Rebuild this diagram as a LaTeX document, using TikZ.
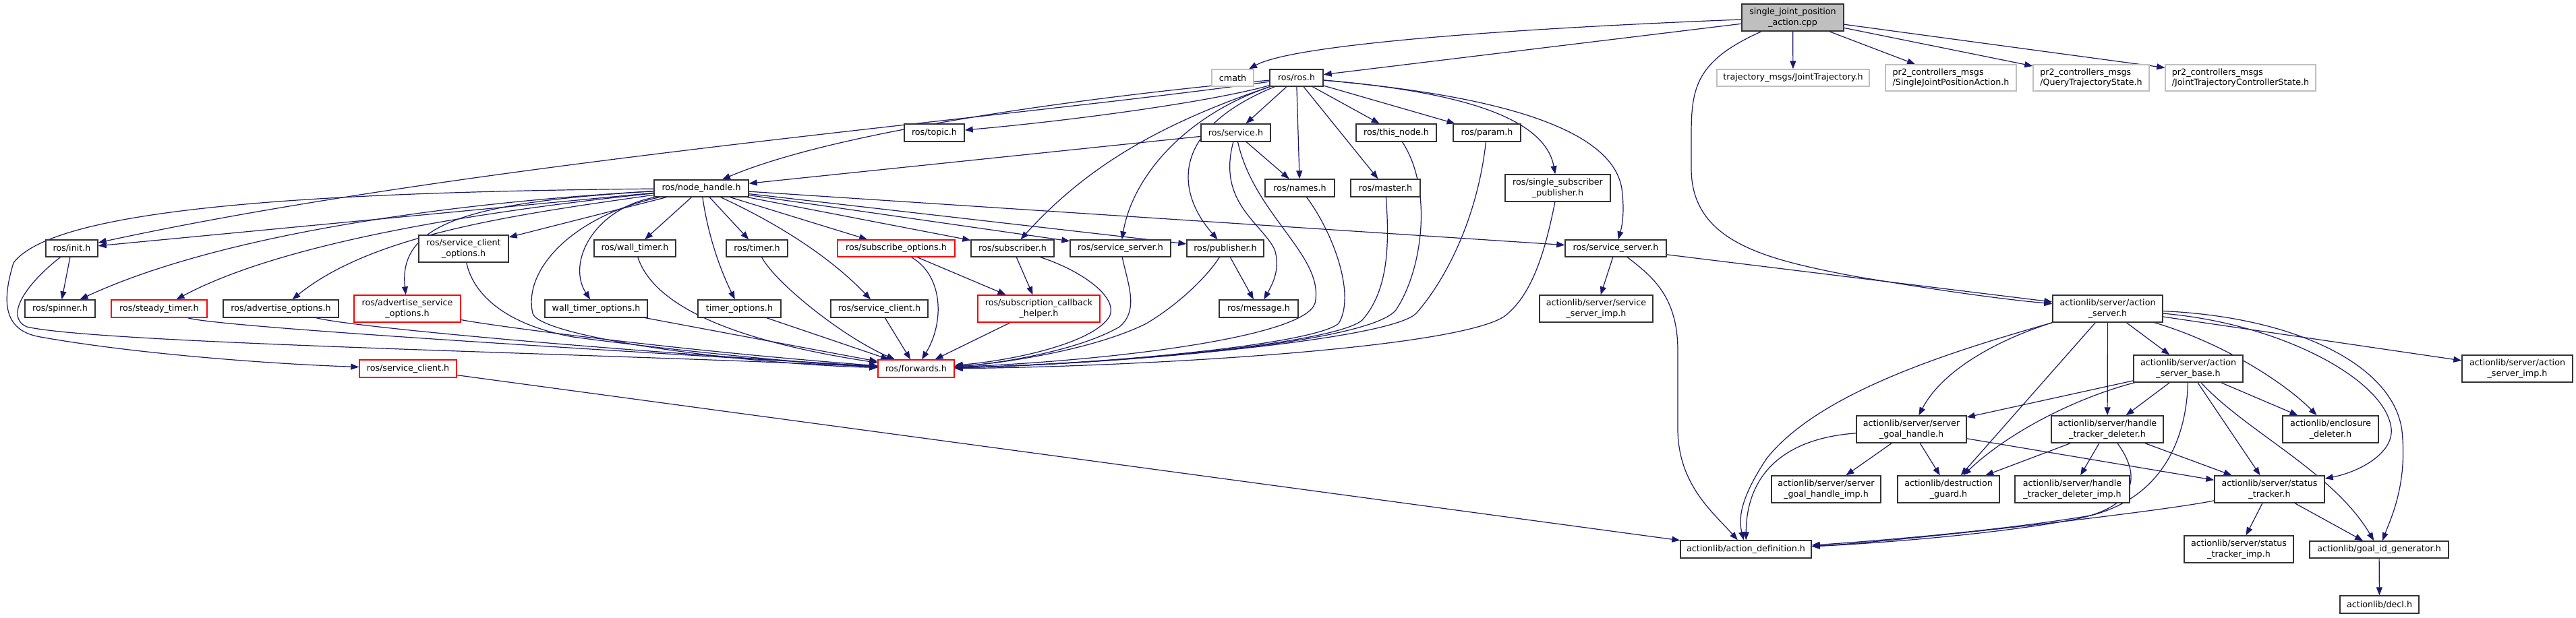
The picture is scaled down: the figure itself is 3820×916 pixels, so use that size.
\documentclass[tikz,border=0pt]{standalone}
\usepackage{fontspec}
\newfontfamily\dv{DejaVu Sans}
\usetikzlibrary{arrows.meta}
\definecolor{edgec}{HTML}{191970}
\definecolor{gfill}{HTML}{BFBFBF}
\definecolor{gline}{HTML}{BFBFBF}
\definecolor{bline}{HTML}{333333}
\pgfdeclarelayer{back}
\pgfdeclarelayer{bg}
\pgfsetlayers{back,bg,main}
\tikzset{
  box/.style={draw=bline, fill=white, line width=1.4pt, inner sep=0pt, align=center,
    font=\dv\fontsize{12.7}{15.5}\selectfont},
  gbox/.style={box, draw=gline},
  gboxl/.style={box, draw=gline, align=left},
  rbox/.style={box, draw=red},
  mainbox/.style={box, fill=gfill, draw=bline},
  e/.style={draw=edgec, line width=1.2pt, -{Triangle[length=12pt,width=9pt]}}
}
\newcommand\mkbox[6]{\node[#1,minimum width=#4pt,minimum height=#5pt] (#2) at (#3) {#6};}
\begin{document}
\begin{tikzpicture}[x=1pt,y=-1pt]
\begin{pgfonlayer}{back}
\fill[white] (0,0) rectangle (3820,916);
\end{pgfonlayer}
\useasboundingbox (0,0) rectangle (3820,916);

\mkbox{mainbox}{main}{2658.5,26}{151}{40}{single\_joint\_position\\\_action.cpp}
\mkbox{gbox}{cmath}{1828,115.5}{62}{25}{cmath}
\mkbox{box}{rosh}{1922.5,115.5}{79}{25}{ros/ros.h}
\mkbox{gbox}{traj}{2659,115.5}{226}{25}{trajectory\_msgs/JointTrajectory.h}
\mkbox{gboxl}{sjpa}{2893,115.5}{194}{39}{pr2\_controllers\_msgs\\/SingleJointPositionAction.h}
\mkbox{gboxl}{qts}{3101,115.5}{172}{39}{pr2\_controllers\_msgs\\/QueryTrajectoryState.h}
\mkbox{gboxl}{jtcs}{3322.5,115.5}{223}{39}{pr2\_controllers\_msgs\\/JointTrajectoryControllerState.h}
\mkbox{box}{topic}{1385.5,197}{89}{26}{ros/topic.h}
\mkbox{box}{service}{1832.5,197}{103}{26}{ros/service.h}
\mkbox{box}{thisnode}{2070.5,197}{119}{26}{ros/this\_node.h}
\mkbox{box}{param}{2205,197}{100}{26}{ros/param.h}
\mkbox{box}{nh}{1040,279.5}{140}{25}{ros/node\_handle.h}
\mkbox{box}{names}{1927.5,279}{103}{26}{ros/names.h}
\mkbox{box}{master}{2054.5,279}{103}{26}{ros/master.h}
\mkbox{box}{ssp}{2310,279}{156}{40}{ros/single\_subscriber\\\_publisher.h}
\mkbox{box}{init}{106.5,368.5}{77}{25}{ros/init.h}
\mkbox{box}{sco}{687.5,369}{133}{40}{ros/service\_client\\\_options.h}
\mkbox{box}{walltimer}{941.5,368.5}{121}{25}{ros/wall\_timer.h}
\mkbox{box}{timer}{1122.5,368.5}{91}{25}{ros/timer.h}
\mkbox{rbox}{subopt}{1329,368.5}{174}{25}{ros/subscribe\_options.h}
\mkbox{box}{subscriber}{1501.5,368.5}{123}{25}{ros/subscriber.h}
\mkbox{box}{ssL}{1661.5,368.5}{149}{25}{ros/service\_server.h}
\mkbox{box}{publisher}{1817,368.5}{114}{25}{ros/publisher.h}
\mkbox{box}{ssR}{2396,368.5}{150}{25}{ros/service\_server.h}
\mkbox{box}{spinner}{89,458}{104}{26}{ros/spinner.h}
\mkbox{rbox}{steady}{236,458}{142}{26}{ros/steady\_timer.h}
\mkbox{box}{advopt}{416.5,458}{171}{26}{ros/advertise\_options.h}
\mkbox{rbox}{advsrv}{604,458}{158}{40}{ros/advertise\_service\\\_options.h}
\mkbox{box}{wto}{884,458}{152}{26}{wall\_timer\_options.h}
\mkbox{box}{to}{1096.5,458}{123}{26}{timer\_options.h}
\mkbox{box}{scb}{1304,458}{144}{26}{ros/service\_client.h}
\mkbox{rbox}{sch}{1540.5,458}{181}{40}{ros/subscription\_callback\\\_helper.h}
\mkbox{box}{message}{1866.5,458}{117}{26}{ros/message.h}
\mkbox{box}{ssimp}{2367,458}{168}{40}{actionlib/server/service\\\_server\_imp.h}
\mkbox{box}{asrv}{3125.5,458}{163}{40}{actionlib/server/action\\\_server.h}
\mkbox{rbox}{fw}{1358.5,547}{113}{26}{ros/forwards.h}
\mkbox{rbox}{scred}{605,547}{144}{26}{ros/service\_client.h}
\mkbox{box}{asb}{3245,547}{162}{40}{actionlib/server/action\\\_server\_base.h}
\mkbox{box}{asimp}{3733,547}{164}{40}{actionlib/server/action\\\_server\_imp.h}
\mkbox{box}{sgh}{2834.5,637}{163}{40}{actionlib/server/server\\\_goal\_handle.h}
\mkbox{box}{htd}{3125,637}{166}{40}{actionlib/server/handle\\\_tracker\_deleter.h}
\mkbox{box}{enc}{3456,637}{142}{40}{actionlib/enclosure\\\_deleter.h}
\mkbox{box}{sghimp}{2708,726}{162}{40}{actionlib/server/server\\\_goal\_handle\_imp.h}
\mkbox{box}{dg}{2889.5,726}{151}{40}{actionlib/destruction\\\_guard.h}
\mkbox{box}{htdimp}{3073,726}{170}{40}{actionlib/server/handle\\\_tracker\_deleter\_imp.h}
\mkbox{box}{st}{3365.5,726}{163}{40}{actionlib/server/status\\\_tracker.h}
\mkbox{box}{stimp}{3320,815}{162}{40}{actionlib/server/status\\\_tracker\_imp.h}
\mkbox{box}{ad}{2589,815}{194}{26}{actionlib/action\_definition.h}
\mkbox{box}{gidg}{3528,815.5}{206}{25}{actionlib/goal\_id\_generator.h}
\mkbox{box}{decl}{3528.5,897}{117}{26}{actionlib/decl.h}

\begin{pgfonlayer}{bg}
% main
\draw[e] (main) .. controls (2250,42) and (1920,65) .. (cmath);
\draw[e] (main) -- (rosh);
\draw[e] (main) -- (traj);
\draw[e] (main) -- (sjpa);
\draw[e] (main) -- (qts);
\draw[e] (main) -- (jtcs);
\draw[e] (main) .. controls (2515,90) and (2508,130) .. (2508,200) -- (2508,250) .. controls (2508,360) and (2620,385) .. (2750,410) .. controls (2900,435) and (2980,445) .. (asrv);
% ros.h
\draw[e] (rosh) .. controls (1800,150) and (1600,178) .. (topic);
\draw[e] (rosh) .. controls (1650,140) and (1250,190) .. (nh);
\draw[e] (rosh) .. controls (1500,175) and (700,240) .. (init);
\draw[e] (rosh) -- (service);
\draw[e] (rosh) -- (names);
\draw[e] (rosh) -- (thisnode);
\draw[e] (rosh) -- (param);
\draw[e] (rosh) -- (master);
\draw[e] (rosh) .. controls (2150,135) and (2290,170) .. (ssp);
\draw[e] (rosh) .. controls (2200,140) and (2390,185) .. (2405,280) .. controls (2410,320) and (2404,340) .. (ssR);
\draw[e] (rosh) .. controls (1700,190) and (1600,260) .. (subscriber);
\draw[e] (rosh) .. controls (1760,170) and (1680,260) .. (ssL);
\draw[e] (rosh) .. controls (1740,190) and (1740,280) .. (publisher);
% node_handle
\draw[e] (nh) -- (init);
\draw[e] (nh) .. controls (600,305) and (300,360) .. (spinner);
\draw[e] (nh) .. controls (650,320) and (400,370) .. (steady);
\draw[e] (nh) .. controls (750,320) and (550,350) .. (advopt);
\draw[e] (nh) .. controls (700,300) and (590,330) .. (advsrv);
\draw[e] (nh) -- (sco);
\draw[e] (nh) -- (walltimer);
\draw[e] (nh) .. controls (880,310) and (840,390) .. (wto);
\draw[e] (nh) .. controls (1050,350) and (1068,400) .. (to);
\draw[e] (nh) -- (timer);
\draw[e] (nh) .. controls (1150,330) and (1230,380) .. (scb);
\draw[e] (nh) -- (subopt);
\draw[e] (nh) -- (subscriber);
\draw[e] (nh) -- (ssL);
\draw[e] (nh) -- (publisher);
\draw[e] (nh) -- (ssR);
\draw[e] (nh) .. controls (850,320) and (775,400) .. (790,465) .. controls (800,500) and (1100,540) .. (fw);
\draw[e] (nh) .. controls (450,285) and (80,310) .. (20,390) .. controls (5,440) and (0,490) .. (60,500) .. controls (200,525) and (400,540) .. (scred);
% init and others
\draw[e] (init) -- (spinner);
\draw[e] (init) .. controls (40,420) and (5,470) .. (40,485) .. controls (150,510) and (900,525) .. (fw);
\draw[e] (sco) .. controls (700,430) and (740,480) .. (850,500) .. controls (1000,520) and (1200,540) .. (fw);
\draw[e] (steady) .. controls (320,485) and (900,520) .. (fw);
\draw[e] (advopt) .. controls (520,485) and (900,520) .. (fw);
\draw[e] (advsrv) .. controls (720,482) and (1000,520) .. (fw);
\draw[e] (walltimer) .. controls (965,440) and (1050,500) .. (fw);
\draw[e] (wto) -- (fw);
\draw[e] (to) -- (fw);
\draw[e] (timer) .. controls (1150,420) and (1250,500) .. (fw);
\draw[e] (scb) -- (fw);
\draw[e] (subopt) .. controls (1400,410) and (1400,480) .. (fw);
\draw[e] (subopt) -- (sch);
\draw[e] (subscriber) -- (sch);
\draw[e] (sch) -- (fw);
\draw[e] (subscriber) .. controls (1600,400) and (1660,440) .. (1645,470) .. controls (1620,510) and (1500,535) .. (fw);
\draw[e] (ssL) .. controls (1672,420) and (1690,460) .. (1660,485) .. controls (1600,520) and (1480,540) .. (fw);
\draw[e] (publisher) .. controls (1790,410) and (1750,450) .. (1700,480) .. controls (1620,520) and (1480,540) .. (fw);
\draw[e] (publisher) -- (message);
\draw[e] (service) .. controls (1805,300) and (1870,330) .. (1890,370) .. controls (1900,400) and (1885,425) .. (message);
\draw[e] (service) -- (names);
\draw[e] (service) -- (nh);
\draw[e] (service) .. controls (1860,320) and (1965,380) .. (1950,450) .. controls (1935,500) and (1650,535) .. (fw);
\draw[e] (names) .. controls (1980,350) and (2010,440) .. (1985,480) .. controls (1950,510) and (1650,540) .. (fw);
\draw[e] (master) .. controls (2060,360) and (2060,430) .. (2020,475) .. controls (1980,510) and (1650,540) .. (fw);
\draw[e] (thisnode) .. controls (2125,280) and (2110,400) .. (2070,460) .. controls (2030,510) and (1650,540) .. (fw);
\draw[e] (param) .. controls (2190,330) and (2140,420) .. (2100,465) .. controls (2060,505) and (1650,540) .. (fw);
\draw[e] (ssp) .. controls (2290,380) and (2270,440) .. (2230,470) .. controls (2150,520) and (1650,545) .. (fw);
% ssR
\draw[e] (ssR) -- (ssimp);
\draw[e] (ssR) .. controls (2450,410) and (2488,440) .. (2488,520) -- (2488,640) .. controls (2490,720) and (2540,760) .. (ad);
\draw[e] (ssR) -- (asrv);
% action_server
\draw[e] (asrv.south west) .. controls (2900,520) and (2700,580) .. (2620,680) .. controls (2580,740) and (2578,770) .. (ad);
\draw[e] (asrv.south west) .. controls (2960,505) and (2880,550) .. (sgh);
\draw[e] (asrv) -- (dg);
\draw[e] (asrv) -- (htd);
\draw[e] (asrv) -- (asb);
\draw[e] (asrv) .. controls (3300,510) and (3390,570) .. (enc);
\draw[e] (asrv) .. controls (3380,480) and (3530,560) .. (3545,630) .. controls (3555,670) and (3500,700) .. (st);
\draw[e] (asrv) .. controls (3400,470) and (3550,540) .. (3562,640) .. controls (3570,720) and (3545,770) .. (gidg);
\draw[e] (asrv) -- (asimp);
% action_server_base
\draw[e] (asb) -- (sgh);
\draw[e] (asb) .. controls (3080,590) and (2980,640) .. (dg);
\draw[e] (asb) -- (htd);
\draw[e] (asb) -- (st);
\draw[e] (asb) -- (enc);
\draw[e] (asb) .. controls (3330,640) and (3460,700) .. (gidg);
\draw[e] (asb) .. controls (3242,660) and (3200,740) .. (3100,765) .. controls (2950,790) and (2750,805) .. (ad);
% server_goal_handle
\draw[e] (sgh) .. controls (2650,650) and (2590,700) .. (ad);
\draw[e] (sgh) -- (sghimp);
\draw[e] (sgh) -- (dg);
\draw[e] (sgh) -- (st);
% handle_tracker_deleter
\draw[e] (htd) -- (dg);
\draw[e] (htd) -- (htdimp);
\draw[e] (htd) -- (st);
\draw[e] (htd) .. controls (3185,720) and (3150,755) .. (3080,770) .. controls (2950,795) and (2750,808) .. (ad);
% status_tracker
\draw[e] (st) -- (stimp);
\draw[e] (st) -- (gidg);
\draw[e] (st) .. controls (3200,760) and (2800,805) .. (ad);
\draw[e] (gidg) -- (decl);
\draw[e] (scred) -- (ad);
\end{pgfonlayer}
\end{tikzpicture}
\end{document}
